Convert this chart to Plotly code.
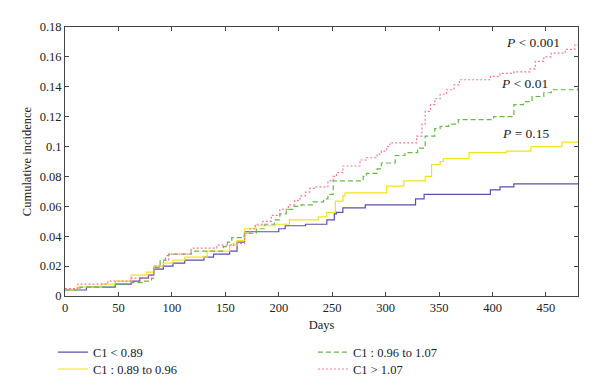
import plotly.graph_objects as go

# ---- data ----
blue_days = [0, 20, 47, 62, 70, 78, 83, 92, 101, 112, 130, 139, 154, 161, 168, 200, 206, 225, 245, 252,
             254, 260, 281, 328, 336, 398, 407, 420, 480]
blue_vals = [0.004, 0.006, 0.008, 0.010, 0.012, 0.014, 0.018, 0.020, 0.022, 0.024, 0.026, 0.028, 0.030, 0.036,
             0.043, 0.045, 0.047, 0.048, 0.051, 0.055, 0.056, 0.059, 0.061, 0.065, 0.068, 0.071, 0.073, 0.075, 0.075]

yellow_days = [0, 11, 34, 47, 62, 76, 83, 92, 101, 112, 133, 154, 161, 168, 178, 197, 210, 237, 245, 253,
               260, 262, 301, 317, 337, 343, 351, 354, 378, 413, 436, 465, 480]
yellow_vals = [0.004, 0.006, 0.008, 0.010, 0.014, 0.016, 0.020, 0.022, 0.024, 0.026, 0.030, 0.034, 0.037, 0.045,
               0.047, 0.048, 0.051, 0.053, 0.056, 0.0635, 0.067, 0.069, 0.0735, 0.077, 0.080, 0.088, 0.090, 0.092,
               0.096, 0.097, 0.100, 0.103, 0.103]

green_days = [0, 14, 47, 62, 73, 81, 83, 89, 94, 97, 118, 148, 152, 156, 165, 168, 179, 187, 196, 201,
              207, 214, 221, 232, 242, 246, 251, 279, 282, 292, 296, 309, 318, 330, 337, 346, 351, 359, 368, 401,
              420, 429, 437, 448, 455, 480]
green_vals = [0.004, 0.006, 0.008, 0.009, 0.010, 0.012, 0.019, 0.024, 0.027, 0.028, 0.030, 0.033, 0.036, 0.039,
              0.040, 0.042, 0.045, 0.048, 0.051, 0.055, 0.058, 0.060, 0.061, 0.063, 0.065, 0.068, 0.077, 0.080,
              0.082, 0.085, 0.089, 0.094, 0.096, 0.099, 0.107, 0.112, 0.1135, 0.115, 0.118, 0.120, 0.128, 0.130,
              0.1335, 0.136, 0.138, 0.139]

red_days = [0, 12, 40, 61, 78, 83, 92, 97, 118, 142, 158, 168, 173, 178, 185, 193, 201, 209, 215, 220,
            225, 229, 234, 246, 251, 254, 260, 276, 282, 292, 296, 301, 304, 329, 334, 337, 342, 346, 351, 357,
            364, 369, 398, 407, 420, 435, 440, 448, 455, 468, 477, 480]
red_vals = [0.005, 0.008, 0.010, 0.012, 0.014, 0.020, 0.024, 0.028, 0.032, 0.034, 0.035, 0.042, 0.045, 0.048,
            0.050, 0.054, 0.058, 0.061, 0.064, 0.067, 0.0695, 0.072, 0.073, 0.077, 0.080, 0.0825, 0.087, 0.091,
            0.0925, 0.095, 0.097, 0.100, 0.1025, 0.107, 0.115, 0.1235, 0.128, 0.132, 0.135, 0.138, 0.1413, 0.1447,
            0.147, 0.149, 0.150, 0.152, 0.157, 0.160, 0.1625, 0.165, 0.168, 0.168]

series_names = ["C1 < 0.89", "C1 : 0.89 to 0.96", "C1 : 0.96 to 1.07", "C1 > 1.07"]

x_ticks = [0, 50, 100, 150, 200, 250, 300, 350, 400, 450]
y_ticks = [0, 0.02, 0.04, 0.06, 0.08, 0.1, 0.12, 0.14, 0.16, 0.18]
y_tick_text = ["0", "0.02", "0.04", "0.06", "0.08", "0.1", "0.12", "0.14", "0.16", "0.18"]

p_labels = ["<i>P</i> < 0.001", "<i>P</i> < 0.01", "<i>P</i> = 0.15"]
p_x = [438, 430, 431]
p_y = [0.1695, 0.1425, 0.109]

FONT = "Liberation Serif, Times New Roman, serif"

fig = go.Figure()
specs = [
    (blue_days, blue_vals, "#5b4fae", "solid", "legend"),
    (yellow_days, yellow_vals, "#f2e41c", "solid", "legend2"),
    (green_days, green_vals, "#68b845", "5px,3px", "legend"),
    (red_days, red_vals, "#f07a95", "2px,2px", "legend2"),
]
for (d, v, c, dash, leg), name in zip(specs, series_names):
    fig.add_trace(go.Scatter(
        x=d, y=v, mode="lines", name=name, line=dict(color=c, width=1.2, dash=dash, shape="hv"),
        legend=leg,
    ))

for t, x, y in zip(p_labels, p_x, p_y):
    fig.add_annotation(x=x, y=y, text=t, showarrow=False, font=dict(family=FONT, size=13.5, color="#222"))

axis_common = dict(
    showgrid=False, zeroline=False, showline=True, linecolor="#444", linewidth=1,
    mirror="ticks", ticks="inside", ticklen=4, tickcolor="#444",
    tickfont=dict(family=FONT, size=12.5, color="#222"),
)
fig.update_xaxes(range=[0, 480], tickvals=x_ticks,
                 title=dict(text="Days", font=dict(family=FONT, size=12.5, color="#222"), standoff=6),
                 automargin=False, **axis_common)
fig.update_yaxes(range=[0, 0.18], tickvals=y_ticks, ticktext=y_tick_text,
                 title=dict(text="Cumulative incidence", font=dict(family=FONT, size=12.5, color="#222"), standoff=5),
                 automargin=False, **axis_common)

legend_common = dict(orientation="h", x=-0.0236, xanchor="left", yanchor="top",
                     entrywidth=215, traceorder="normal", font=dict(family=FONT, size=12.5, color="#222"),
                     tracegroupgap=0, itemwidth=30, bgcolor="rgba(0,0,0,0)")

fig.update_layout(
    width=600, height=392,
    margin=dict(l=65, r=22, t=27, b=96, autoexpand=False),
    paper_bgcolor="white", plot_bgcolor="white",
    font=dict(family=FONT, size=12.5, color="#222"),
    legend=dict(y=-0.154, **legend_common),
    legend2=dict(y=-0.217, **legend_common),
)

fig.write_html("out.html", config={"displayModeBar": False},
               post_script="document.body.style.margin='0';")
